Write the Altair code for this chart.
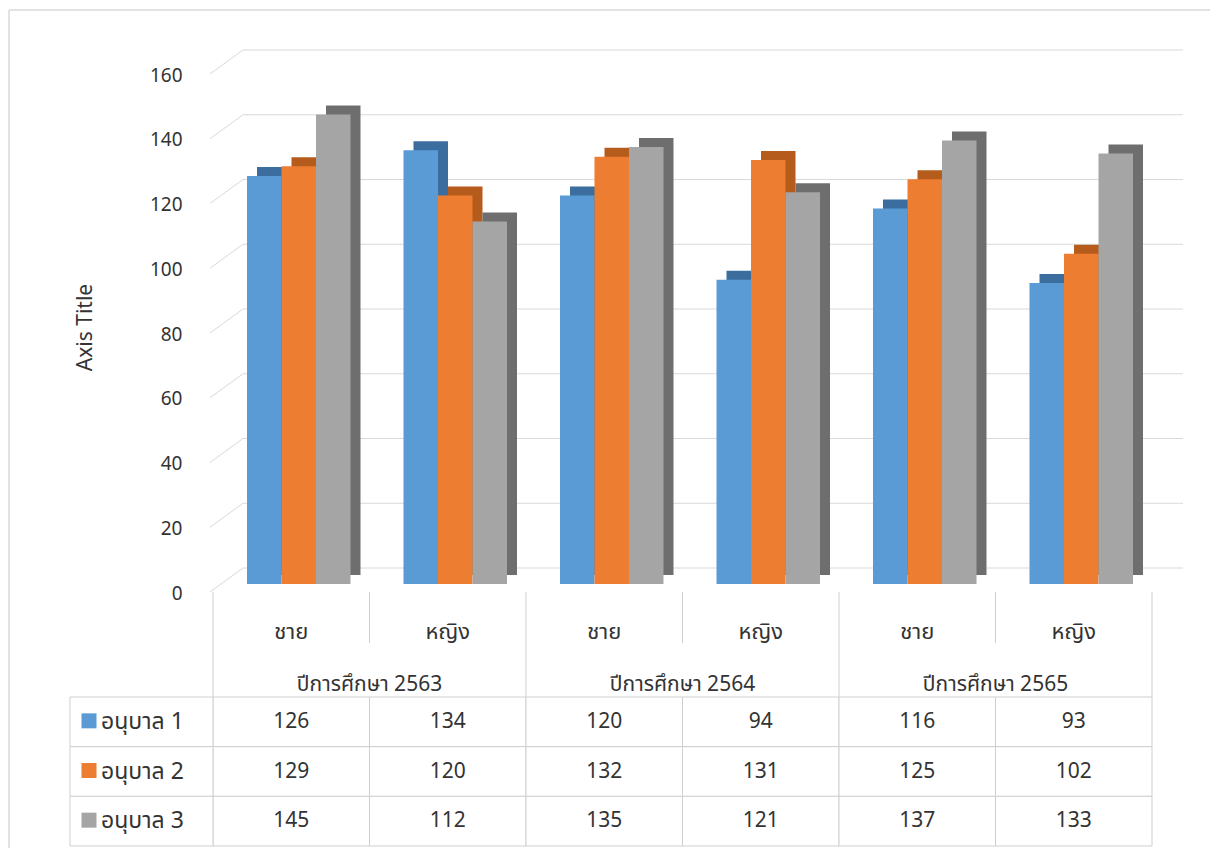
import altair as alt
import pandas as pd

# ---------------- data ----------------
years = ["ปีการศึกษา 2563", "ปีการศึกษา 2564", "ปีการศึกษา 2565"]
genders = ["ชาย", "หญิง"]
series = ["อนุบาล 1", "อนุบาล 2", "อนุบาล 3"]
kg1 = [126, 134, 120, 94, 116, 93]
kg2 = [129, 120, 132, 131, 125, 102]
kg3 = [145, 112, 135, 121, 137, 133]
y_ticks = [0, 20, 40, 60, 80, 100, 120, 140, 160]
axis_title = "Axis Title"

front_colors = ["#5B9BD5", "#ED7D31", "#A5A5A5"]
depth_colors = ["#3B6E9F", "#B55B1C", "#6E6E6E"]

FONT = "Tahoma, 'Noto Sans Thai', 'Noto Sans', sans-serif"
TXT = "#333333"
GRID = "#D9D9D9"
LINE = "#CFCFCF"

cats = [f"{y}|{g}" for y in years for g in genders]
values = {series[0]: kg1, series[1]: kg2, series[2]: kg3}

rows = []
for s in series:
    for i, c in enumerate(cats):
        y, g = c.split("|")
        rows.append({"cat": c, "year": y, "gender": g, "series": s, "value": values[s][i]})
df = pd.DataFrame(rows)
hdr = pd.DataFrame([{"cat": c, "year": c.split("|")[0], "gender": c.split("|")[1]} for c in cats])
ticks_df = pd.DataFrame({"v": y_ticks})
ser_df = pd.DataFrame({"series": series})
one = pd.DataFrame({"k": [0]})

# ---------------- scales ----------------
x_scale = alt.Scale(domain=cats, range=[0, 939], paddingInner=0, paddingOuter=0)
y_scale = alt.Scale(domain=[0, 160], range=[554, 36], nice=False, zero=True)
row_scale = alt.Scale(domain=series, range=[667, 816], paddingInner=0, paddingOuter=0)
front_off = alt.Scale(domain=series, range=[34, 137.5], paddingInner=0, paddingOuter=0)
depth_off = alt.Scale(domain=series, range=[44, 147.5], paddingInner=0, paddingOuter=0)

X = alt.X("cat:N", scale=x_scale, axis=None)

# ---------------- layers ----------------
border_left = alt.Chart(one).mark_rule(color="#D9D9D9", strokeWidth=1.5).encode(
    x=alt.value(-204), y=alt.value(-20), y2=alt.value(830))
border_top = alt.Chart(one).mark_rule(color="#D9D9D9", strokeWidth=1.5).encode(
    x=alt.value(-204), x2=alt.value(997), y=alt.value(-20))

grid = alt.Chart(ticks_df).mark_rule(color=GRID, strokeWidth=1, yOffset=-16).encode(
    y=alt.Y("v:Q", scale=y_scale, axis=None),
    x=alt.value(30), x2=alt.value(970))

diag = alt.Chart(ticks_df).mark_rule(color=GRID, strokeWidth=1, yOffset=8, y2Offset=-16).encode(
    y=alt.Y("v:Q", scale=y_scale, axis=None),
    y2="v:Q",
    x=alt.value(-3), x2=alt.value(30))

depth = alt.Chart(df).mark_bar(yOffset=-9, y2Offset=-9).encode(
    x=X,
    xOffset=alt.XOffset("series:N", scale=depth_off),
    y=alt.Y("value:Q", scale=y_scale, axis=None),
    color=alt.Color("series:N", scale=alt.Scale(domain=series, range=depth_colors), legend=None),
)

front = alt.Chart(df).mark_bar().encode(
    x=X,
    xOffset=alt.XOffset("series:N", scale=front_off),
    y=alt.Y("value:Q", scale=y_scale,
            axis=alt.Axis(values=y_ticks, grid=False, domain=False, ticks=False, tickSize=0,
                          labelPadding=31, labelOffset=9, labelFontSize=19, labelColor=TXT,
                          labelFont=FONT, labelFlush=False, labelOverlap=False,
                          title=axis_title, titleX=-128, titleY=297, titleAngle=270,
                          titleAlign="center", titleBaseline="middle", titleFontSize=21,
                          titleFontWeight="normal", titleColor=TXT, titleFont=FONT)),
    color=alt.Color("series:N", scale=alt.Scale(domain=series, range=front_colors), legend=None),
)

# header lines
cat_lines = alt.Chart(hdr[hdr["gender"] == genders[1]]).mark_rule(color=LINE).encode(
    x=alt.X("cat:N", scale=x_scale, axis=None, bandPosition=0),
    y=alt.value(562), y2=alt.value(613))
year_lines = alt.Chart(hdr[hdr["gender"] == genders[0]]).mark_rule(color=LINE).encode(
    x=alt.X("cat:N", scale=x_scale, axis=None, bandPosition=0),
    y=alt.value(562), y2=alt.value(667))
end_line = alt.Chart(hdr.tail(1)).mark_rule(color=LINE).encode(
    x=alt.X("cat:N", scale=x_scale, axis=None, bandPosition=1),
    y=alt.value(562), y2=alt.value(667))

gender_txt = alt.Chart(hdr).mark_text(font=FONT, fontSize=22, color=TXT, baseline="middle").encode(
    x=X, y=alt.value(602), text="gender:N")
year_txt = alt.Chart(hdr[hdr["gender"] == genders[0]]).mark_text(
    font=FONT, fontSize=21, color=TXT, baseline="middle").encode(
    x=alt.X("cat:N", scale=x_scale, axis=None, bandPosition=1),
    y=alt.value(655), text="year:N")

# table
cells = alt.Chart(df).mark_rect(fill="white", stroke=LINE, strokeWidth=1).encode(
    x=X, y=alt.Y("series:N", scale=row_scale, axis=None))
leg_cells = alt.Chart(ser_df).mark_rect(fill="white", stroke=LINE, strokeWidth=1).encode(
    x=alt.value(-143), x2=alt.value(0), y=alt.Y("series:N", scale=row_scale, axis=None))
cell_txt = alt.Chart(df).mark_text(font=FONT, fontSize=21, color=TXT, baseline="middle").encode(
    x=X, y=alt.Y("series:N", scale=row_scale, axis=None), text="value:Q")
swatch = alt.Chart(ser_df).mark_square(size=225, opacity=1, yOffset=-1).encode(
    x=alt.value(-124), y=alt.Y("series:N", scale=row_scale, axis=None),
    color=alt.Color("series:N", scale=alt.Scale(domain=series, range=front_colors), legend=None))
leg_txt = alt.Chart(ser_df).mark_text(font=FONT, fontSize=23, color=TXT, align="left",
                                      baseline="middle").encode(
    x=alt.value(-112), y=alt.Y("series:N", scale=row_scale, axis=None), text="series:N")

chart = alt.layer(
    border_left, border_top, grid, diag, depth, front,
    cat_lines, year_lines, end_line, gender_txt, year_txt,
    cells, leg_cells, cell_txt, swatch, leg_txt,
).resolve_scale(
    y="independent", color="independent", xOffset="independent"
).properties(
    width=977, height=816,
    background="white",
    autosize=alt.AutoSizeParams(type="none"),
    padding={"left": 205, "top": 22, "right": 20, "bottom": 2},
).configure_view(stroke=None)

chart.save("out.html", embed_options={"renderer": "svg", "actions": False})
